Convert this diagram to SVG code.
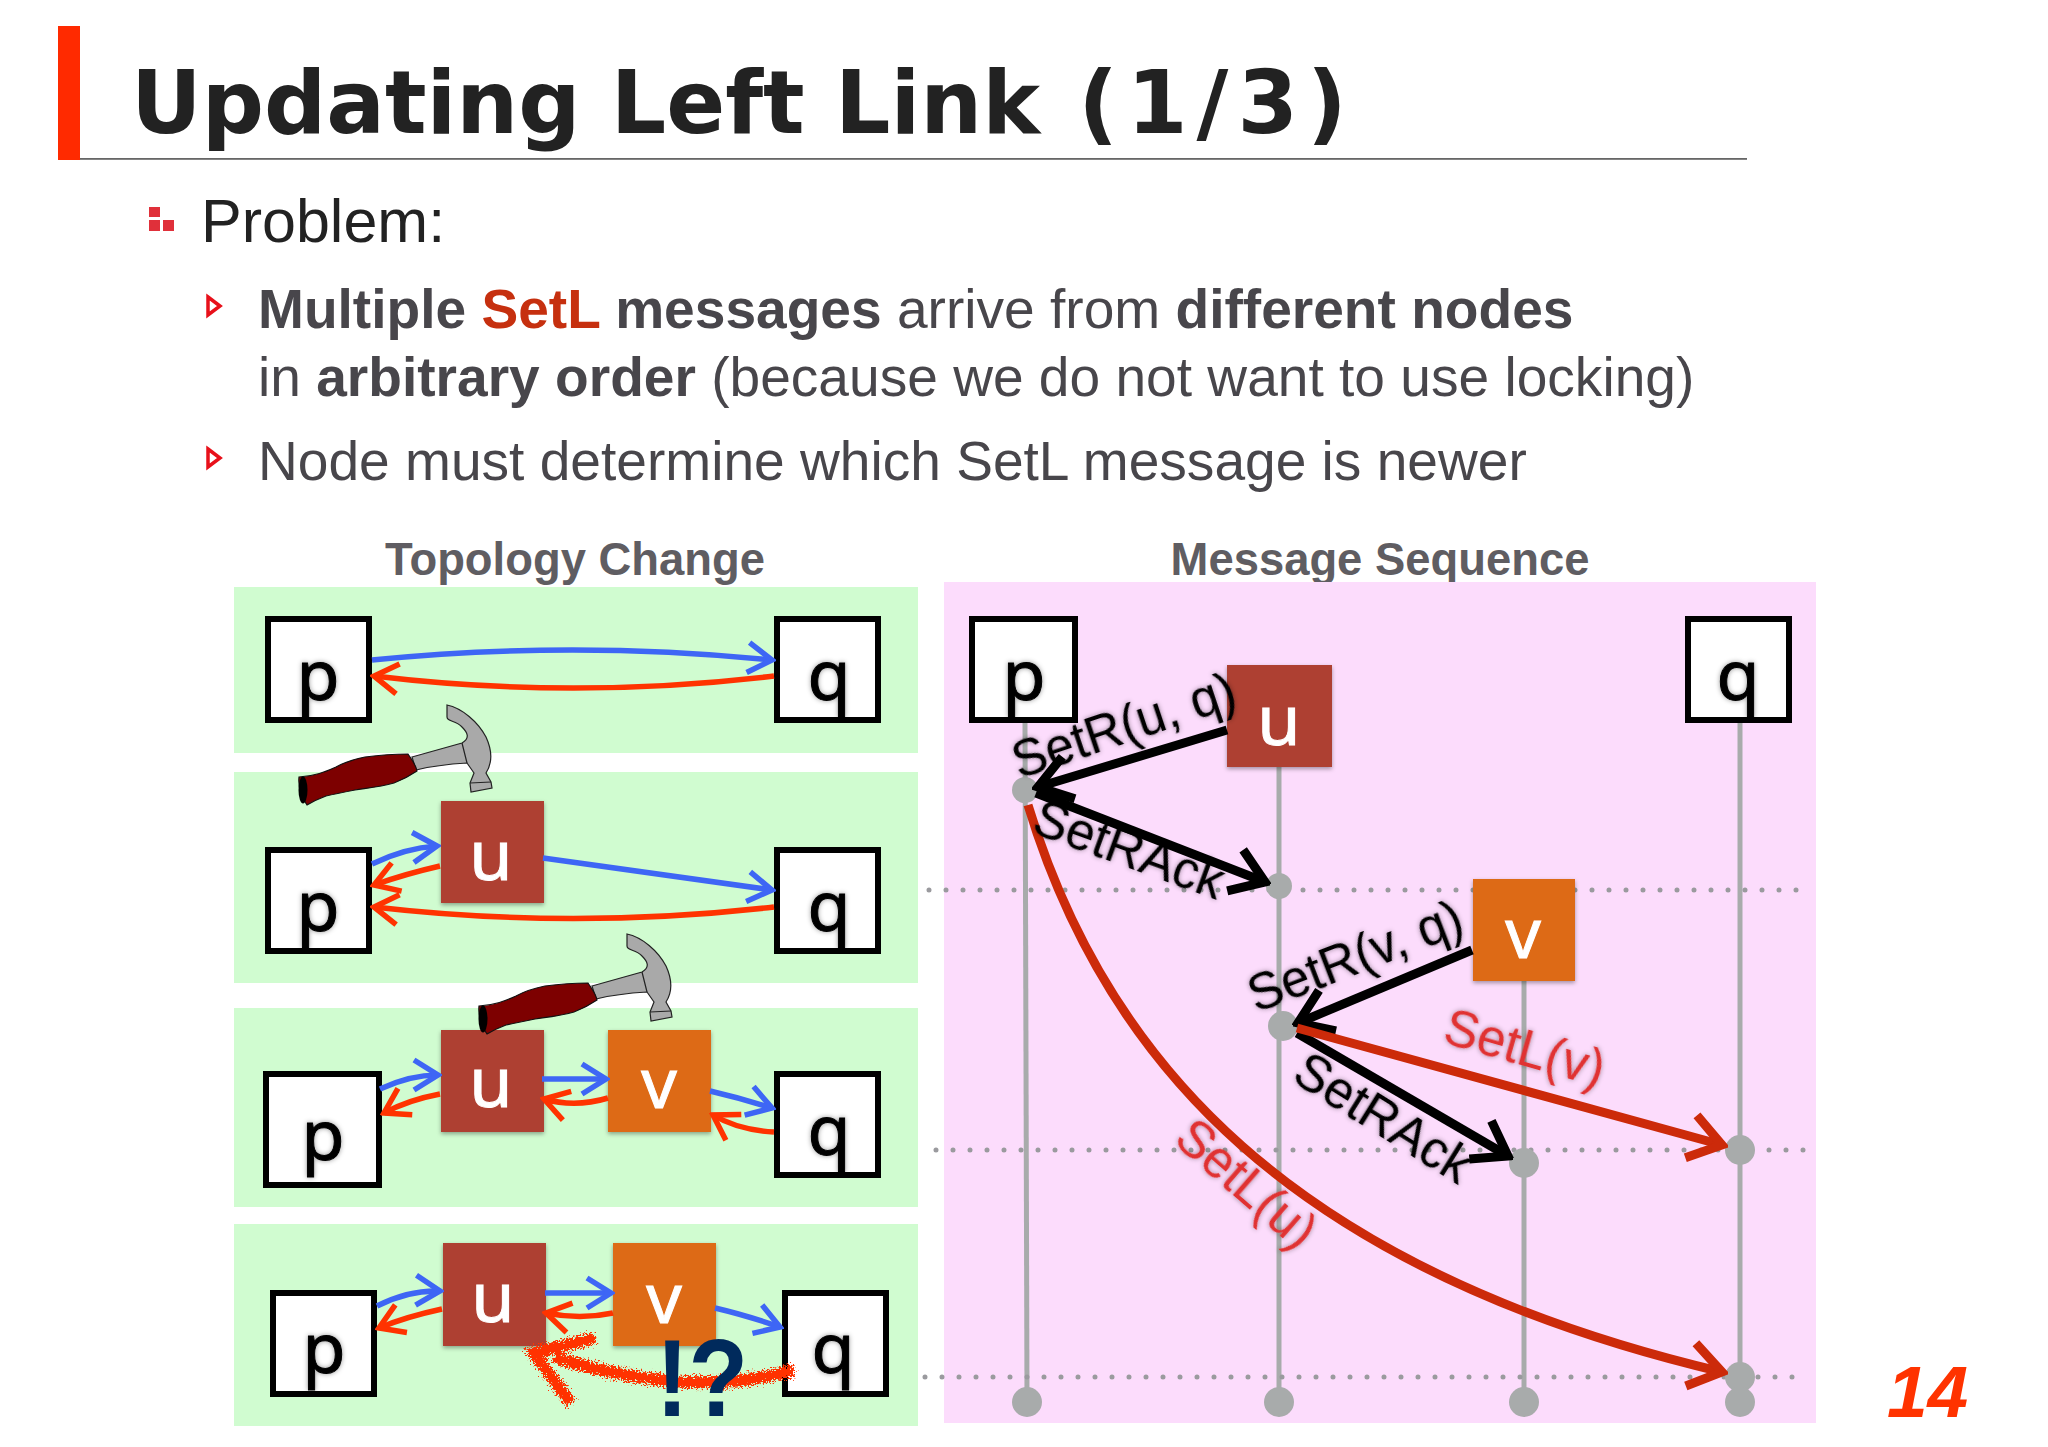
<svg xmlns="http://www.w3.org/2000/svg" width="2048" height="1447" viewBox="0 0 2048 1447">
<style>
text{font-family:"Liberation Sans",Arial,sans-serif}
.body{font-size:55.1px;fill:#48464b}
.b{font-weight:700}
.head{font-size:45.4px;font-weight:700;fill:#5f5d62;text-anchor:middle}
.panel{fill:#d0fcd0}
.box{fill:#fff;stroke:#000;stroke-width:6}
.u{fill:#ae4133;filter:url(#sh)}
.v{fill:#dd6a12;filter:url(#sh)}
.n{font-family:"Noto Sans",sans-serif;font-size:70px;text-anchor:middle;fill:#000;stroke:#000;stroke-width:1;filter:url(#glow)}
.w{fill:#fff;stroke:#fff;filter:none}
.bl,.rd,.bk,.dr{fill:none}
.bl{stroke:#3e66f5;stroke-width:5.5;marker-end:url(#mb)}
.rd{stroke:#ff3300;stroke-width:5.5;marker-end:url(#mr)}
.bk{stroke:#000;stroke-width:9;marker-end:url(#mk)}
.dr{stroke:#cc2a0a;stroke-width:9;marker-end:url(#md)}
.life{stroke:#a8abab;stroke-width:5}
.dot{fill:#a8abab}
.dl{stroke:#9a9a9e;stroke-width:5;stroke-linecap:round;stroke-dasharray:0 17}
.lab{font-size:51px;fill:#000;filter:url(#glow)}
.labr{font-size:51px;fill:#e03030;filter:url(#glow)}
.tri{fill:#fff;stroke:#e8101a;stroke-width:3.5}
.sq{fill:#e0303a}
</style>
<defs>
<filter id="sh" x="-10%" y="-10%" width="120%" height="120%"><feDropShadow dx="0" dy="2" stdDeviation="2" flood-color="#000" flood-opacity=".35"/></filter>
<filter id="glow" x="-20%" y="-20%" width="140%" height="140%"><feDropShadow dx="0" dy="0" stdDeviation="2.5" flood-color="#000" flood-opacity=".4"/></filter>
<filter id="rough" x="-10%" y="-20%" width="120%" height="140%"><feTurbulence type="fractalNoise" baseFrequency=".6" numOctaves="2" seed="4"/><feDisplacementMap in="SourceGraphic" scale="14" xChannelSelector="R" yChannelSelector="G"/></filter>
<marker id="mb" markerUnits="userSpaceOnUse" viewBox="-32 -20 36 40" refX="0" refY="0" markerWidth="36" markerHeight="40" orient="auto"><path d="M-24 -15L0 0L-24 15" fill="none" stroke="#3e66f5" stroke-width="5.5"/></marker>
<marker id="mr" markerUnits="userSpaceOnUse" viewBox="-32 -20 36 40" refX="0" refY="0" markerWidth="36" markerHeight="40" orient="auto"><path d="M-24 -15L0 0L-24 15" fill="none" stroke="#ff3300" stroke-width="5.5"/></marker>
<marker id="mk" markerUnits="userSpaceOnUse" viewBox="-40 -30 46 60" refX="0" refY="0" markerWidth="46" markerHeight="60" orient="auto"><path d="M-32 -22L0 0L-32 22" fill="none" stroke="#000" stroke-width="9"/></marker>
<marker id="md" markerUnits="userSpaceOnUse" viewBox="-40 -30 46 60" refX="0" refY="0" markerWidth="46" markerHeight="60" orient="auto"><path d="M-32 -22L0 0L-32 22" fill="none" stroke="#cc2a0a" stroke-width="9"/></marker>
<g id="hammer">
<path d="M412 757L462 743C470 738 468 733 462 727C456 720 447 722 447 717L447 705C462 708 478 722 486 737C492 750 493 762 486 773L491 782L492 788L471 792L470 783L474 773L467 763C450 764 432 766 416 770Z" fill="#a9a9a9" stroke="#222" stroke-width="1.2"/>
<path d="M462 743L467 763M470 783L491 782" fill="none" stroke="#222" stroke-width="1.2"/>
<path d="M299 777C315 776 325 772 336 767C345 762 355 759 365 757C380 755 395 754 408 754C412 760 416 765 417 771C408 777 402 780 394 783C380 787 368 788 355 790C345 792 335 794 326 796C318 799 312 802 307 805C302 798 298 788 299 777Z" fill="#7d0000" stroke="#111" stroke-width="1.2"/>
<ellipse cx="303" cy="790" rx="4.5" ry="13.5" fill="#000"/>
</g>
</defs>
<rect width="2048" height="1447" fill="#fff"/>
<g id="title">
<rect x="58" y="26" width="22" height="134" fill="#ff2a00"/>
<rect x="80" y="158" width="1667" height="1.8" fill="#666"/>
<text x="131" y="133" font-size="87" font-weight="700" style="font-family:'DejaVu Sans',sans-serif" fill="#222">Updating Left Link <tspan dx="8" letter-spacing="9">(1/3)</tspan></text>
</g>
<g id="bullets">
<rect class="sq" x="149" y="207" width="11" height="10"/><rect class="sq" x="149" y="220" width="11" height="11"/><rect class="sq" x="163" y="220" width="11" height="11"/>
<text x="201" y="242" font-size="61" fill="#222">Problem:</text>
<path class="tri" d="M208 297L220 306L208 315Z"/>
<text class="body" x="258" y="328"><tspan class="b">Multiple </tspan><tspan class="b" fill="#c6300f">SetL</tspan><tspan class="b"> messages</tspan> arrive from <tspan class="b">different nodes</tspan></text>
<text class="body" x="258" y="396">in <tspan class="b">arbitrary order</tspan> (because we do not want to use locking)</text>
<path class="tri" d="M208 449L220 458L208 467Z"/>
<text class="body" x="258" y="480">Node must determine which SetL message is newer</text>
</g>
<g id="headings">
<text class="head" x="575" y="575">Topology Change</text>
<text class="head" x="1380" y="575">Message Sequence</text>
</g>
<g id="panels">
<rect class="panel" x="234" y="587" width="684" height="166"/>
<rect class="panel" x="234" y="772" width="684" height="211"/>
<rect class="panel" x="234" y="1008" width="684" height="199"/>
<rect class="panel" x="234" y="1224" width="684" height="202"/>
<rect x="944" y="582" width="872" height="841" fill="#fcdcfc"/>
</g>
<g id="t1-p"><rect class="box" x="268" y="619" width="101" height="101"/><text class="n" x="318" y="700">p</text></g>
<g id="t1-q"><rect class="box" x="777" y="619" width="101" height="101"/><text class="n" x="829" y="700">q</text></g>
<g id="t2-p"><rect class="box" x="268" y="850" width="101" height="101"/><text class="n" x="318" y="931">p</text></g>
<g id="t2-q"><rect class="box" x="777" y="850" width="101" height="101"/><text class="n" x="829" y="931">q</text></g>
<g id="t2-u"><rect class="u" x="441" y="801" width="103" height="102"/><text class="n w" x="491" y="880">u</text></g>
<g id="t3-p"><rect class="box" x="266" y="1074" width="113" height="111"/><text class="n" x="323" y="1160">p</text></g>
<g id="t3-q"><rect class="box" x="777" y="1074" width="101" height="101"/><text class="n" x="829" y="1155">q</text></g>
<g id="t3-u"><rect class="u" x="441" y="1030" width="103" height="102"/><text class="n w" x="491" y="1107">u</text></g>
<g id="t3-v"><rect class="v" x="608" y="1030" width="103" height="102"/><text class="n w" x="659" y="1108">v</text></g>
<g id="t4-p"><rect class="box" x="273" y="1293" width="101" height="101"/><text class="n" x="324" y="1373">p</text></g>
<g id="t4-q"><rect class="box" x="785" y="1293" width="101" height="101"/><text class="n" x="833" y="1373">q</text></g>
<g id="t4-u"><rect class="u" x="443" y="1243" width="103" height="103"/><text class="n w" x="493" y="1322">u</text></g>
<g id="t4-v"><rect class="v" x="613" y="1243" width="103" height="103"/><text class="n w" x="664" y="1323">v</text></g>
<use href="#hammer"/>
<use href="#hammer" x="180" y="229"/>
<g id="lifelines">
<line class="life" x1="1025" y1="722" x2="1027" y2="1402"/>
<line class="life" x1="1279" y1="766" x2="1279" y2="1402"/>
<line class="life" x1="1524" y1="980" x2="1524" y2="1402"/>
<line class="life" x1="1740" y1="722" x2="1740" y2="1402"/>
<line class="dl" x1="929" y1="890" x2="1802" y2="890"/>
<line class="dl" x1="936" y1="1150" x2="1805" y2="1150"/>
<line class="dl" x1="925" y1="1377" x2="1794" y2="1377"/>
</g>
<g id="s-p"><rect class="box" x="972" y="619" width="103" height="101"/><text class="n" x="1024" y="700">p</text></g>
<g id="s-q"><rect class="box" x="1688" y="619" width="101" height="101"/><text class="n" x="1738" y="700">q</text></g>
<g id="s-u"><rect class="u" x="1227" y="665" width="105" height="102"/><text class="n w" x="1279" y="745">u</text></g>
<g id="s-v"><rect class="v" x="1473" y="879" width="102" height="102"/><text class="n w" x="1523" y="958">v</text></g>
<g id="events">
<circle class="dot" cx="1025" cy="790" r="13"/>
<circle class="dot" cx="1279" cy="886" r="13"/>
<circle class="dot" cx="1283" cy="1026" r="15"/>
<circle class="dot" cx="1524" cy="1163" r="15"/>
<circle class="dot" cx="1740" cy="1150" r="15"/>
<circle class="dot" cx="1740" cy="1377" r="15"/>
<circle class="dot" cx="1027" cy="1402" r="15"/>
<circle class="dot" cx="1279" cy="1402" r="15"/>
<circle class="dot" cx="1524" cy="1402" r="15"/>
<circle class="dot" cx="1740" cy="1402" r="15"/>
</g>
<g id="connectors">
<path class="bl" d="M372 660Q573 640 772 660"/>
<path class="rd" d="M774 676Q573 700 374 676"/>
<path class="bl" d="M372 864Q405 848 437 846"/>
<path class="rd" d="M440 866Q405 874 374 885"/>
<path class="bl" d="M543 858L772 890"/>
<path class="rd" d="M774 907Q573 930 374 907"/>
<path class="bl" d="M380 1089Q410 1075 438 1075"/>
<path class="rd" d="M440 1094Q408 1100 384 1113"/>
<path class="bl" d="M542 1079L606 1079"/>
<path class="rd" d="M608 1098Q575 1108 544 1099"/>
<path class="bl" d="M710 1091Q740 1098 772 1108"/>
<path class="rd" d="M774 1132Q738 1130 713 1115"/>
<path class="bl" d="M377 1306Q408 1290 440 1291"/>
<path class="rd" d="M442 1309Q405 1317 379 1328"/>
<path class="bl" d="M545 1293L611 1293"/>
<path class="rd" d="M613 1313Q580 1320 546 1313"/>
<path class="bl" d="M715 1308Q745 1315 780 1327"/>
<path fill="none" stroke="#ff3300" stroke-width="12" filter="url(#rough)" d="M794 1370Q690 1400 554 1357M595 1338L534 1353L571 1403"/>
<path class="bk" d="M1227 730L1038 787"/>
<path class="bk" d="M1036 793L1265 882"/>
<path class="bk" d="M1472 950L1298 1023"/>
<path class="bk" d="M1297 1033L1508 1156"/>
<path class="dr" d="M1297 1028L1722 1145"/>
<path class="dr" d="M1028 805C1105 1060 1290 1270 1722 1372"/>
</g>
<g id="labels">
<text class="lab" transform="translate(1019 779) rotate(-18.5)">SetR(u, q)</text>
<text class="lab" transform="translate(1030 832) rotate(20)">SetRAck</text>
<text class="lab" transform="translate(1256 1013) rotate(-21)">SetR(v, q)</text>
<text class="lab" transform="translate(1290 1080) rotate(32)">SetRAck</text>
<text class="labr" transform="translate(1441 1042) rotate(16)">SetL(v)</text>
<text class="labr" transform="translate(1172 1142) rotate(41)">SetL(u)</text>
<text x="656" y="1416" font-size="110" font-weight="700" fill="#002a5c" textLength="92" lengthAdjust="spacingAndGlyphs">!?</text>
<text x="1887" y="1417" font-size="73" font-weight="700" font-style="italic" fill="#ff3300">14</text>
</g>
</svg>
